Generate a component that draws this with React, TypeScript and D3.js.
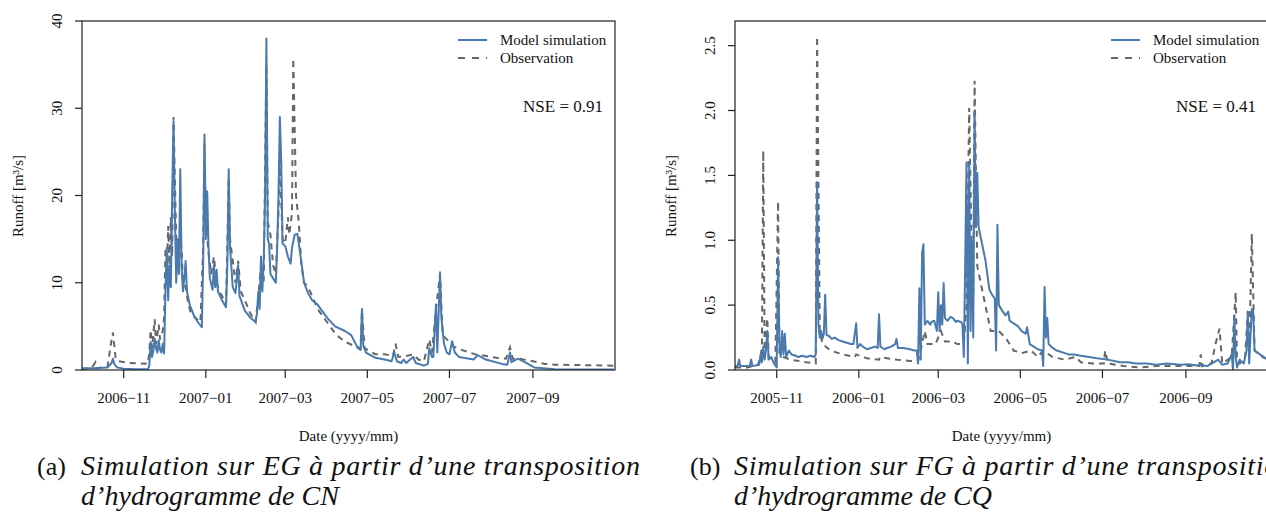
import React from "react";
import * as d3 from "d3";

// ---------- DATA ----------
// Panel (a): EG, hydrological year 2006-2007
const simEG: [string, number][] = [
  ["2006-10-01", 0.2], ["2006-10-10", 0.2], ["2006-10-20", 0.3], ["2006-10-23", 0.8], ["2006-10-24", 1.3],
  ["2006-10-25", 0.7], ["2006-10-27", 0.3], ["2006-11-01", 0.15], ["2006-11-10", 0.1], ["2006-11-19", 0.1],
  ["2006-11-20", 0.5], ["2006-11-21", 3.2], ["2006-11-22", 1.5], ["2006-11-23", 2.2], ["2006-11-24", 3.6],
  ["2006-11-25", 2.5], ["2006-11-26", 2.0], ["2006-11-27", 3.4], ["2006-11-28", 2.3], ["2006-11-29", 2.0],
  ["2006-11-30", 3.0], ["2006-12-01", 1.9], ["2006-12-02", 9], ["2006-12-03", 14], ["2006-12-04", 8],
  ["2006-12-05", 12], ["2006-12-06", 9.5], ["2006-12-07", 20], ["2006-12-08", 28.5], ["2006-12-09", 18],
  ["2006-12-10", 10], ["2006-12-11", 15], ["2006-12-12", 11], ["2006-12-13", 23], ["2006-12-14", 12],
  ["2006-12-15", 9], ["2006-12-16", 10.5], ["2006-12-17", 12.5], ["2006-12-18", 9], ["2006-12-20", 7.5],
  ["2006-12-23", 6.3], ["2006-12-26", 5.5], ["2006-12-29", 4.9], ["2006-12-30", 12], ["2006-12-31", 27],
  ["2007-01-01", 15], ["2007-01-02", 20.5], ["2007-01-03", 14], ["2007-01-04", 10.5], ["2007-01-06", 9.2],
  ["2007-01-07", 12], ["2007-01-08", 9.5], ["2007-01-09", 11.5], ["2007-01-10", 9], ["2007-01-13", 8],
  ["2007-01-16", 7.2], ["2007-01-17", 12], ["2007-01-18", 23], ["2007-01-19", 14], ["2007-01-21", 9.5],
  ["2007-01-23", 8.8], ["2007-01-25", 12], ["2007-01-26", 8.5], ["2007-01-30", 6.8], ["2007-02-03", 6],
  ["2007-02-07", 5.5], ["2007-02-08", 6.5], ["2007-02-09", 9.0], ["2007-02-10", 7], ["2007-02-11", 13],
  ["2007-02-12", 9], ["2007-02-13", 12.5], ["2007-02-14", 20], ["2007-02-15", 38], ["2007-02-16", 15],
  ["2007-02-17", 14.5], ["2007-02-18", 11], ["2007-02-20", 10.5], ["2007-02-22", 10], ["2007-02-23", 14],
  ["2007-02-24", 20], ["2007-02-25", 29], ["2007-02-26", 24], ["2007-02-27", 14.5], ["2007-03-01", 14.2],
  ["2007-03-03", 13], ["2007-03-05", 12.2], ["2007-03-06", 14], ["2007-03-08", 15.5], ["2007-03-10", 15.6],
  ["2007-03-12", 13.5], ["2007-03-15", 10], ["2007-03-18", 8.8], ["2007-03-21", 8], ["2007-03-25", 7.5],
  ["2007-04-01", 6], ["2007-04-07", 5], ["2007-04-14", 4.5], ["2007-04-19", 4], ["2007-04-24", 2.5],
  ["2007-04-26", 2.3], ["2007-04-27", 7], ["2007-04-28", 2.8], ["2007-04-30", 2], ["2007-05-07", 1.4],
  ["2007-05-14", 1.2], ["2007-05-19", 1.0], ["2007-05-21", 2.0], ["2007-05-23", 1.0], ["2007-05-26", 0.8],
  ["2007-05-28", 1.2], ["2007-05-30", 0.8], ["2007-06-01", 1.1], ["2007-06-04", 1.5], ["2007-06-06", 0.8],
  ["2007-06-12", 0.5], ["2007-06-15", 0.7], ["2007-06-16", 2.5], ["2007-06-18", 1.5], ["2007-06-19", 1.5],
  ["2007-06-21", 7.5], ["2007-06-22", 2], ["2007-06-24", 11.2], ["2007-06-25", 6], ["2007-06-27", 3.0],
  ["2007-06-29", 2.0], ["2007-07-01", 1.8], ["2007-07-03", 3.3], ["2007-07-05", 2.0], ["2007-07-08", 1.5],
  ["2007-07-19", 1.2], ["2007-07-22", 1.7], ["2007-07-28", 1.2], ["2007-08-09", 0.7], ["2007-08-13", 0.6],
  ["2007-08-15", 2.0], ["2007-08-16", 0.9], ["2007-08-21", 1.3], ["2007-08-26", 0.9], ["2007-09-02", 0.3],
  ["2007-09-17", 0.1], ["2007-10-31", 0.05],
];

const obsEG: [string, number][] = [
  ["2006-10-01", 0.1], ["2006-10-08", 0.2], ["2006-10-11", 0.9], ["2006-10-12", 0.2], ["2006-10-20", 0.4],
  ["2006-10-22", 2.5], ["2006-10-24", 4.3], ["2006-10-26", 1.3], ["2006-10-28", 1.0], ["2006-11-05", 0.8],
  ["2006-11-19", 0.7], ["2006-11-20", 2], ["2006-11-21", 4.6], ["2006-11-22", 2.5], ["2006-11-24", 5.8],
  ["2006-11-25", 3], ["2006-11-27", 5.2], ["2006-11-28", 3.5], ["2006-11-30", 4.5], ["2006-12-01", 6],
  ["2006-12-02", 14], ["2006-12-03", 10], ["2006-12-04", 16.5], ["2006-12-05", 12], ["2006-12-06", 17.5],
  ["2006-12-07", 13], ["2006-12-08", 29], ["2006-12-09", 22], ["2006-12-10", 15], ["2006-12-11", 14],
  ["2006-12-12", 11], ["2006-12-13", 15], ["2006-12-14", 14], ["2006-12-15", 10], ["2006-12-17", 9.5],
  ["2006-12-19", 7.5], ["2006-12-21", 6.5], ["2006-12-24", 6], ["2006-12-28", 5.5], ["2006-12-30", 14],
  ["2006-12-31", 26], ["2007-01-01", 17], ["2007-01-03", 13.5], ["2007-01-05", 11], ["2007-01-07", 13],
  ["2007-01-09", 10], ["2007-01-11", 9], ["2007-01-13", 8.5], ["2007-01-16", 7.5], ["2007-01-18", 22],
  ["2007-01-19", 15], ["2007-01-21", 12.5], ["2007-01-23", 10], ["2007-01-25", 12.5], ["2007-01-27", 9],
  ["2007-01-30", 8], ["2007-02-03", 6.5], ["2007-02-07", 5.5], ["2007-02-09", 8.5], ["2007-02-11", 12],
  ["2007-02-13", 10], ["2007-02-15", 35], ["2007-02-16", 17], ["2007-02-18", 15.5], ["2007-02-20", 12],
  ["2007-02-22", 11], ["2007-02-24", 18], ["2007-02-25", 24], ["2007-02-27", 15], ["2007-03-01", 14.5],
  ["2007-03-03", 17.5], ["2007-03-04", 15.5], ["2007-03-06", 18], ["2007-03-07", 35.7], ["2007-03-09", 20],
  ["2007-03-11", 17], ["2007-03-13", 12], ["2007-03-15", 10], ["2007-03-18", 9.5], ["2007-03-21", 8.5],
  ["2007-03-25", 7], ["2007-04-01", 5.5], ["2007-04-08", 4], ["2007-04-15", 3.2], ["2007-04-22", 2.7],
  ["2007-04-26", 2.5], ["2007-04-27", 6.8], ["2007-04-29", 2.5], ["2007-05-07", 1.8], ["2007-05-14", 1.8],
  ["2007-05-20", 1.6], ["2007-05-22", 3], ["2007-05-24", 1.5], ["2007-05-30", 1.6], ["2007-06-04", 1.8],
  ["2007-06-08", 1.2], ["2007-06-12", 1.0], ["2007-06-16", 3.5], ["2007-06-18", 2], ["2007-06-21", 7],
  ["2007-06-24", 11], ["2007-06-26", 4], ["2007-07-01", 3.2], ["2007-07-04", 2.7], ["2007-07-10", 2.3],
  ["2007-07-20", 1.8], ["2007-07-25", 1.7], ["2007-08-05", 1.4], ["2007-08-12", 1.3], ["2007-08-15", 2.6],
  ["2007-08-17", 1.3], ["2007-08-22", 1.3], ["2007-09-01", 1.0], ["2007-09-10", 0.7], ["2007-09-17", 0.6],
  ["2007-09-22", 0.6], ["2007-10-31", 0.5],
];

// Panel (b): FG, hydrological year 2005-2006
const simFG: [string, number][] = [
  ["2005-10-01", 0.03], ["2005-10-03", 0.03], ["2005-10-04", 0.08], ["2005-10-05", 0.03], ["2005-10-12", 0.03],
  ["2005-10-13", 0.08], ["2005-10-14", 0.03], ["2005-10-19", 0.04], ["2005-10-20", 0.12], ["2005-10-21", 0.06],
  ["2005-10-22", 0.18], ["2005-10-23", 0.08], ["2005-10-24", 0.15], ["2005-10-25", 0.3], ["2005-10-26", 0.08],
  ["2005-10-28", 0.1], ["2005-10-30", 0.05], ["2005-11-01", 0.02], ["2005-11-02", 0.87], ["2005-11-03", 0.2],
  ["2005-11-04", 0.1], ["2005-11-05", 0.3], ["2005-11-06", 0.12], ["2005-11-07", 0.28], ["2005-11-08", 0.1],
  ["2005-11-10", 0.15], ["2005-11-12", 0.12], ["2005-11-15", 0.11], ["2005-11-17", 0.1], ["2005-11-20", 0.11],
  ["2005-11-23", 0.1], ["2005-11-26", 0.11], ["2005-11-29", 0.1], ["2005-11-30", 0.12], ["2005-12-01", 1.45],
  ["2005-12-02", 0.35], ["2005-12-03", 0.25], ["2005-12-04", 0.3], ["2005-12-05", 0.24], ["2005-12-06", 0.28],
  ["2005-12-07", 0.58], ["2005-12-08", 0.27], ["2005-12-10", 0.26], ["2005-12-12", 0.24], ["2005-12-14", 0.25],
  ["2005-12-17", 0.23], ["2005-12-20", 0.22], ["2005-12-23", 0.21], ["2005-12-26", 0.2], ["2005-12-28", 0.2],
  ["2005-12-30", 0.36], ["2005-12-31", 0.17], ["2006-01-02", 0.2], ["2006-01-04", 0.18], ["2006-01-07", 0.16],
  ["2006-01-10", 0.17], ["2006-01-13", 0.18], ["2006-01-15", 0.17], ["2006-01-16", 0.43], ["2006-01-17", 0.18],
  ["2006-01-20", 0.16], ["2006-01-22", 0.17], ["2006-01-25", 0.18], ["2006-01-28", 0.2], ["2006-01-29", 0.24],
  ["2006-01-30", 0.17], ["2006-02-03", 0.17], ["2006-02-08", 0.16], ["2006-02-11", 0.15], ["2006-02-13", 0.15],
  ["2006-02-14", 0.05], ["2006-02-15", 0.63], ["2006-02-16", 0.08], ["2006-02-17", 0.9], ["2006-02-18", 0.97],
  ["2006-02-19", 0.35], ["2006-02-21", 0.38], ["2006-02-23", 0.35], ["2006-02-24", 0.37], ["2006-02-26", 0.38],
  ["2006-02-28", 0.3], ["2006-03-01", 0.6], ["2006-03-02", 0.3], ["2006-03-03", 0.5], ["2006-03-04", 0.35],
  ["2006-03-05", 0.67], ["2006-03-06", 0.4], ["2006-03-08", 0.38], ["2006-03-10", 0.41], ["2006-03-12", 0.4],
  ["2006-03-14", 0.37], ["2006-03-15", 0.38], ["2006-03-18", 0.37], ["2006-03-19", 0.35], ["2006-03-20", 0.1],
  ["2006-03-21", 0.8], ["2006-03-22", 1.6], ["2006-03-23", 0.05], ["2006-03-24", 1.6], ["2006-03-25", 0.3],
  ["2006-03-26", 1.0], ["2006-03-27", 0.25], ["2006-03-28", 2.0], ["2006-03-29", 1.1], ["2006-03-30", 1.52],
  ["2006-03-31", 1.1], ["2006-04-02", 1.0], ["2006-04-05", 0.85], ["2006-04-08", 0.62], ["2006-04-10", 0.58],
  ["2006-04-12", 0.55], ["2006-04-13", 0.15], ["2006-04-14", 1.12], ["2006-04-15", 0.5], ["2006-04-18", 0.45],
  ["2006-04-20", 0.42], ["2006-04-22", 0.45], ["2006-04-23", 0.38], ["2006-04-26", 0.36], ["2006-04-29", 0.34],
  ["2006-05-02", 0.3], ["2006-05-05", 0.28], ["2006-05-06", 0.33], ["2006-05-08", 0.2], ["2006-05-11", 0.18],
  ["2006-05-14", 0.16], ["2006-05-17", 0.15], ["2006-05-18", 0.03], ["2006-05-19", 0.64], ["2006-05-20", 0.25],
  ["2006-05-21", 0.4], ["2006-05-22", 0.2], ["2006-05-25", 0.17], ["2006-05-28", 0.15], ["2006-06-03", 0.13],
  ["2006-06-06", 0.12], ["2006-06-10", 0.12], ["2006-06-15", 0.11], ["2006-06-21", 0.1], ["2006-06-27", 0.09],
  ["2006-07-05", 0.08], ["2006-07-14", 0.06], ["2006-07-20", 0.06], ["2006-07-26", 0.05], ["2006-08-03", 0.05],
  ["2006-08-10", 0.04], ["2006-08-18", 0.05], ["2006-08-28", 0.04], ["2006-09-03", 0.045], ["2006-09-09", 0.035],
  ["2006-09-12", 0.04], ["2006-09-17", 0.03], ["2006-09-20", 0.05], ["2006-09-25", 0.08], ["2006-09-28", 0.04],
  ["2006-10-02", 0.05], ["2006-10-05", 0.12], ["2006-10-06", 0.0], ["2006-10-07", 0.42], ["2006-10-08", 0.1],
  ["2006-10-09", 0.02], ["2006-10-11", 0.08], ["2006-10-14", 0.05], ["2006-10-16", 0.15], ["2006-10-17", 0.45],
  ["2006-10-18", 0.05], ["2006-10-20", 0.47], ["2006-10-21", 0.45], ["2006-10-22", 0.15], ["2006-10-26", 0.12],
  ["2006-11-01", 0.08],
];

const obsFG: [string, number][] = [
  ["2005-10-01", 0.02], ["2005-10-10", 0.02], ["2005-10-18", 0.04], ["2005-10-20", 0.1], ["2005-10-21", 0.18],
  ["2005-10-22", 1.69], ["2005-10-23", 0.15], ["2005-10-25", 0.4], ["2005-10-26", 0.1], ["2005-10-28", 0.08],
  ["2005-10-31", 0.06], ["2005-11-02", 1.3], ["2005-11-03", 0.12], ["2005-11-06", 0.1], ["2005-11-11", 0.08],
  ["2005-11-23", 0.06], ["2005-11-30", 0.05], ["2005-12-01", 2.57], ["2005-12-03", 0.3], ["2005-12-05", 0.2],
  ["2005-12-11", 0.15], ["2005-12-20", 0.12], ["2005-12-29", 0.1], ["2005-12-30", 0.12], ["2006-01-07", 0.09],
  ["2006-01-16", 0.08], ["2006-01-17", 0.1], ["2006-01-28", 0.08], ["2006-02-08", 0.07], ["2006-02-14", 0.07],
  ["2006-02-17", 0.2], ["2006-02-19", 0.3], ["2006-02-21", 0.2], ["2006-02-27", 0.2], ["2006-03-03", 0.3],
  ["2006-03-06", 0.22], ["2006-03-12", 0.22], ["2006-03-15", 0.2], ["2006-03-20", 0.2], ["2006-03-22", 0.5],
  ["2006-03-24", 2.02], ["2006-03-26", 0.8], ["2006-03-27", 0.6], ["2006-03-28", 2.23], ["2006-03-30", 0.8],
  ["2006-03-31", 0.75], ["2006-04-05", 0.5], ["2006-04-09", 0.3], ["2006-04-15", 0.3], ["2006-04-20", 0.25],
  ["2006-04-26", 0.15], ["2006-05-02", 0.13], ["2006-05-09", 0.15], ["2006-05-14", 0.1], ["2006-05-18", 0.15],
  ["2006-05-25", 0.1], ["2006-06-03", 0.08], ["2006-06-11", 0.1], ["2006-06-15", 0.06], ["2006-06-24", 0.05],
  ["2006-07-02", 0.05], ["2006-07-03", 0.15], ["2006-07-05", 0.05], ["2006-07-17", 0.03], ["2006-07-29", 0.02],
  ["2006-08-10", 0.03], ["2006-09-03", 0.03], ["2006-09-11", 0.03], ["2006-09-12", 0.12], ["2006-09-13", 0.03],
  ["2006-09-20", 0.05], ["2006-09-23", 0.2], ["2006-09-26", 0.32], ["2006-09-28", 0.05], ["2006-10-05", 0.1],
  ["2006-10-08", 0.6], ["2006-10-09", 0.05], ["2006-10-11", 0.05], ["2006-10-15", 0.1], ["2006-10-17", 0.45],
  ["2006-10-18", 0.1], ["2006-10-20", 1.05], ["2006-10-22", 0.15], ["2006-10-28", 0.1], ["2006-11-01", 0.08],
];

const ticksEGx = ["2006-11-01", "2007-01-01", "2007-03-01", "2007-05-01", "2007-07-01", "2007-09-01"];
const ticksFGx = ["2005-11-01", "2006-01-01", "2006-03-01", "2006-05-01", "2006-07-01", "2006-09-01"];
const ticksEGy = [0, 10, 20, 30, 40];
const ticksFGy = [0, 0.5, 1.0, 1.5, 2.0, 2.5];
const legendLabels = ["Model simulation", "Observation"];

// ---------- STYLE ----------
const BLUE = "#4a79ae";
const GREY = "#666666";
const SERIF = '"Liberation Serif", "DejaVu Serif", serif';

const parse = d3.timeParse("%Y-%m-%d");
const fmtTick = (d: Date) => d3.timeFormat("%Y")(d) + "\u2212" + d3.timeFormat("%m")(d);

type PanelProps = {
  id: string;
  left: number;
  sim: [string, number][];
  obs: [string, number][];
  xDomain: [string, string];
  yMax: number;
  xTicks: string[];
  yTicks: number[];
  yFmt: (v: number) => string;
  nse: string;
  captionTag: string;
  captionLine1: string;
  captionLine2: string;
};

const txt = (size: number, extra: React.CSSProperties = {}): React.CSSProperties => ({
  fontFamily: SERIF,
  fontSize: size,
  fill: "#111",
  ...extra,
});

function Panel(p: PanelProps) {
  const top = 21;
  const bottom = 370;
  const width = 533;
  const right = p.left + width;
  const x = d3.scaleTime().domain([parse(p.xDomain[0])!, parse(p.xDomain[1])!]).range([p.left, right]);
  const y = d3.scaleLinear().domain([0, p.yMax]).range([bottom, top]);
  const line = d3
    .line<[string, number]>()
    .x((d) => x(parse(d[0])!))
    .y((d) => y(d[1]));
  const cx = (p.left + right) / 2;
  return (
    <g>
      <defs>
        <clipPath id={p.id}>
          <rect x={p.left} y={top} width={width} height={bottom - top} />
        </clipPath>
      </defs>
      <g clipPath={`url(#${p.id})`}>
        <path d={line(p.obs) || ""} fill="none" stroke={GREY} strokeWidth={2} strokeDasharray="6,5" />
        <path d={line(p.sim) || ""} fill="none" stroke={BLUE} strokeWidth={2} strokeLinejoin="round" />
      </g>
      <rect x={p.left} y={top} width={width} height={bottom - top} fill="none" stroke="#222" strokeWidth={1.2} />
      {p.xTicks.map((t) => {
        const xx = x(parse(t)!);
        return (
          <g key={t}>
            <line x1={xx} x2={xx} y1={bottom} y2={bottom + 8} stroke="#222" strokeWidth={1.2} />
            <text x={xx} y={403} textAnchor="middle" style={txt(15)}>
              {fmtTick(parse(t)!)}
            </text>
          </g>
        );
      })}
      {p.yTicks.map((t) => {
        const yy = y(t);
        return (
          <g key={t}>
            <line x1={p.left - 7} x2={p.left} y1={yy} y2={yy} stroke="#222" strokeWidth={1.2} />
            <text transform={`translate(${p.left - 20},${yy}) rotate(-90)`} textAnchor="middle" style={txt(15)}>
              {p.yFmt(t)}
            </text>
          </g>
        );
      })}
      <text transform={`translate(${p.left - 59},196) rotate(-90)`} textAnchor="middle" style={txt(15)}>
        Runoff [m³/s]
      </text>
      <text x={cx} y={441} textAnchor="middle" style={txt(15)}>
        Date (yyyy/mm)
      </text>
      <line x1={right - 157} x2={right - 128} y1={40} y2={40} stroke={BLUE} strokeWidth={2} />
      <line x1={right - 157} x2={right - 128} y1={58} y2={58} stroke={GREY} strokeWidth={2} strokeDasharray="7,7" />
      <text x={right - 115} y={45} style={txt(15)}>
        {legendLabels[0]}
      </text>
      <text x={right - 115} y={63} style={txt(15)}>
        {legendLabels[1]}
      </text>
      <text x={right - 12} y={112} textAnchor="end" style={txt(17)}>
        {p.nse}
      </text>
      <text x={p.left - 45} y={475} style={txt(26)}>
        {p.captionTag}
      </text>
      <text x={p.left - 1} y={475} style={txt(28, { fontStyle: "italic" })} textLength={559} lengthAdjust="spacing">
        {p.captionLine1}
      </text>
      <text x={p.left - 1} y={505} style={txt(28, { fontStyle: "italic" })} textLength={258} lengthAdjust="spacing">
        {p.captionLine2}
      </text>
    </g>
  );
}

export default function App() {
  return (
    <div style={{ position: "fixed", left: 0, top: 0 }}>
      <svg width={1266} height={512} style={{ display: "block", background: "#fff" }}>
        <rect width={1266} height={512} fill="#fff" />
        <Panel
          id="clipA"
          left={82}
          sim={simEG}
          obs={obsEG}
          xDomain={["2006-10-01", "2007-11-01"]}
          yMax={40}
          xTicks={ticksEGx}
          yTicks={ticksEGy}
          yFmt={(v) => String(v)}
          nse="NSE = 0.91"
          captionTag="(a)"
          captionLine1={"Simulation sur EG à partir d\u2019une transposition"}
          captionLine2={"d\u2019hydrogramme de CN"}
        />
        <Panel
          id="clipB"
          left={735}
          sim={simFG}
          obs={obsFG}
          xDomain={["2005-10-01", "2006-11-01"]}
          yMax={2.69}
          xTicks={ticksFGx}
          yTicks={ticksFGy}
          yFmt={(v) => v.toFixed(1)}
          nse="NSE = 0.41"
          captionTag="(b)"
          captionLine1={"Simulation sur FG à partir d\u2019une transposition"}
          captionLine2={"d\u2019hydrogramme de CQ"}
        />
      </svg>
    </div>
  );
}
